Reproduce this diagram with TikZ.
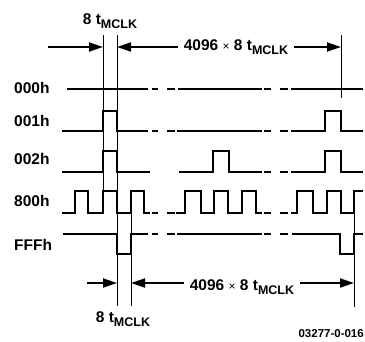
\documentclass[tikz,border=0pt]{standalone}
\usepackage{fontspec}
\setmainfont{Liberation Sans}
\usetikzlibrary{arrows.meta}
\newcommand{\tmclk}{t\raisebox{-3.5pt}{\fontsize{12.5}{12.5}\selectfont MCLK}}
\newcommand{\xtimes}{{\mdseries\fontsize{12}{12}\selectfont ×}}

\begin{document}
\begin{tikzpicture}[x=1pt,y=-1pt,font=\fontsize{15.5}{18}\selectfont\bfseries,
  sig/.style={line width=2.2pt,line join=miter},
  guide/.style={line width=1pt},
  dim/.style={line width=2pt,-{Triangle[length=14pt,width=9pt]}},
  lbl/.style={anchor=west,inner sep=0pt},
  span/.style={inner xsep=6pt,inner ysep=0pt}]
\useasboundingbox (0,0) rectangle (365,341);
\foreach \y/\n in {88/000h,121/001h,159/002h,201/800h,245/FFFh}
  \node[lbl] (row\n) at (14,\y) {\n};
\coordinate (t1) at (103,47);
\coordinate (t2) at (117,47);
\coordinate (t3) at (341,47);
\coordinate (u1) at (117,283);
\coordinate (u2) at (131,283);
\coordinate (u3) at (354,283);
\draw[guide] (103,35) -- (103,213);
\draw[guide] (117,35) -- (117,306);
\draw[guide] (131,213) -- (131,306);
\draw[guide] (341,35) -- (341,98);
\draw[guide] (354,213) -- (354,307);
\node (topw) at (110,21) {8 \tmclk};
\node[span] (topn) at (236,47) {4096 \xtimes{} 8 \tmclk};
\node (botw) at (123,319) {8 \tmclk};
\node[span] (botn) at (242,287) {4096 \xtimes{} 8 \tmclk};
\node[anchor=east,inner sep=0pt,font=\fontsize{11.5}{11.5}\selectfont\bfseries] (fig) at (364,334) {03277-0-016};
\draw[dim] (48,47) -- (t1);
\draw[dim] (topn.west |- t2) -- (t2);
\draw[dim] (topn.east |- t3) -- (t3);
\draw[dim] (87,283) -- (u1);
\draw[dim] (botn.west |- u2) -- (u2);
\draw[dim] (botn.east |- u3) -- (u3);
\draw[sig] (67,89) -- (148,89) (178,89) -- (262,89) (291,89) -- (363,89);
\draw[sig] (62,131) -| (103,111) -| (117,131) -- (148,131) (177,131) -- (262,131)
  (291,131) -| (325,111) -| (341,131) -- (363,131);
\draw[sig] (62,172) -| (103,151) -| (117,172) -- (150,172) (179,172) -| (213,151) -| (229,172) -- (262,172)
  (291,172) -| (325,151) -| (341,172) -- (363,172);
\draw[sig] (62,213) -| (75,191) -| (88,213) -| (103,191) -| (117,213) -| (131,191) -| (144,213) -- (150,213)
  (176,213) -| (185,191) -| (201,213) -| (214,191) -| (228,213) -| (242,191) -| (256,213) -- (262,213)
  (291,213) -| (297,191) -| (313,213) -| (327,191) -| (341,213) -| (354,191) -- (363,191);
\draw[sig] (63,234) -| (117,254) -| (131,234) -- (148,234) (177,234) -- (262,234)
  (292,234) -| (340,254) -| (354,234) -- (363,234);
\foreach \y in {89,131,213,234}
  \draw[sig] (152,\y) -- (158,\y) (167,\y) -- (175,\y);
\foreach \y in {89,131,172,213,234}
  \draw[sig] (264,\y) -- (271,\y) (280,\y) -- (288,\y);
\end{tikzpicture}
\end{document}
